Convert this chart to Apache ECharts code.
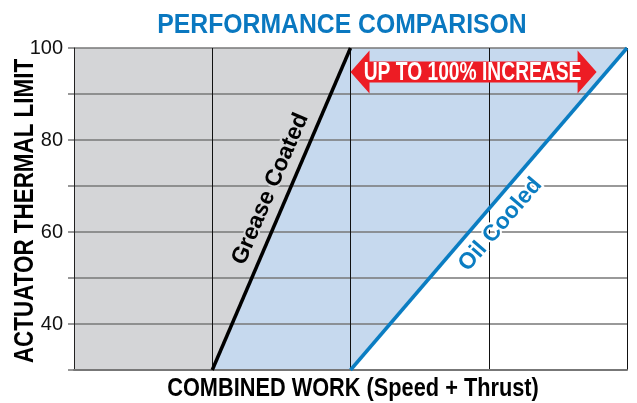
<!DOCTYPE html>
<html><head><meta charset="utf-8">
<script src="https://cdn.jsdelivr.net/npm/echarts@6/dist/echarts.min.js"></script>
<style>html,body{margin:0;padding:0;background:#fff}#c{width:637px;height:403px}</style>
</head><body><div id="c"></div>
<script>
// ---- data ----
const titleText = 'PERFORMANCE COMPARISON';
const xTitle = 'COMBINED WORK (Speed + Thrust)';
const yTitle = 'ACTUATOR THERMAL LIMIT';
const xRange = [0, 4];
const yRange = [30, 100];
const yTickLabels = [40, 60, 80, 100];
const greaseLine = [[1, 30], [2, 100]];
const oilLine = [[2, 30], [4, 100]];
const greaseLabel = 'Grease Coated';
const oilLabel = 'Oil Cooled';
const increaseLabel = 'UP TO 100% INCREASE';
const increaseSpan = [[2, 94.8], [3.78, 94.8]];

// ---- derived regions ----
const regions = [
  { pts: [[xRange[0], yRange[0]], greaseLine[0], greaseLine[1], [xRange[0], yRange[1]]], color: '#d4d5d7' },
  { pts: [greaseLine[0], oilLine[0], oilLine[1], greaseLine[1]], color: '#c6d9ee' }
];

const FONT = 'Liberation Sans';
const NARROW = "'Liberation Sans Narrow','Liberation Sans'";
const chart = echarts.init(document.getElementById('c'), null, { renderer: 'canvas' });

chart.setOption({
  animation: false,
  backgroundColor: '#ffffff',
  grid: { left: 74, right: 10, top: 48, bottom: 33 },
  xAxis: {
    type: 'value', min: xRange[0], max: xRange[1], interval: 1,
    axisLine: { show: true, lineStyle: { color: '#777', width: 2 } },
    axisTick: { show: false }, axisLabel: { show: false },
    splitLine: { show: true, lineStyle: { color: '#111', width: 1 } }
  },
  yAxis: {
    type: 'value', min: yRange[0], max: yRange[1], interval: 10,
    axisLine: { show: true, lineStyle: { color: '#222', width: 1 } },
    axisTick: { show: true, length: 6, lineStyle: { color: '#777', width: 1.5 } },
    axisLabel: {
      margin: 11, color: '#111', fontSize: 20,
      fontFamily: NARROW,
      formatter: v => yTickLabels.includes(v) ? String(v) : ''
    },
    splitLine: { show: true, lineStyle: { color: '#777', width: 1.6 } }
  },
  series: [
    {
      type: 'custom', z: -1, silent: true,
      data: regions.map(r => r.pts[0]),
      renderItem: (params, api) => {
        const r = regions[params.dataIndex];
        return { type: 'polygon', shape: { points: r.pts.map(p => api.coord(p)) }, style: { fill: r.color } };
      }
    },
    { type: 'line', z: 3, data: greaseLine, symbol: 'none', lineStyle: { color: '#000', width: 3.5 } },
    { type: 'line', z: 3, data: oilLine, symbol: 'none', lineStyle: { color: '#0b7dc2', width: 3.5 } }
  ]
});

function px(p) { return chart.convertToPixel({ gridIndex: 0 }, p); }

function lineLabel(line, text, t, offset, color, halo, fontSize, weight) {
  const a = px(line[0]), b = px(line[1]);
  const dx = b[0] - a[0], dy = b[1] - a[1];
  const len = Math.hypot(dx, dy);
  const nx = dy / len, ny = -dx / len; // up-left normal
  const cx = a[0] + dx * t + nx * offset, cy = a[1] + dy * t + ny * offset;
  return {
    type: 'text', x: cx, y: cy, rotation: Math.atan2(-dy, dx), z: 10,
    style: { text, fontFamily: NARROW, fontWeight: weight, fontSize, fill: color,
      align: 'center', verticalAlign: 'middle', stroke: halo, lineWidth: 4 }
  };
}

const L = px(increaseSpan[0]), R = px(increaseSpan[1]);
const ay = L[1], h = 19, hh = 21.5, bh = 10.5;
const arrowPts = [
  [L[0], ay], [L[0] + h, ay - hh], [L[0] + h, ay - bh], [R[0] - h, ay - bh], [R[0] - h, ay - hh],
  [R[0], ay], [R[0] - h, ay + hh], [R[0] - h, ay + bh], [L[0] + h, ay + bh], [L[0] + h, ay + hh]
];

chart.setOption({
  graphic: [
    { type: 'text', x: 342, y: 25, scaleX: 0.9, z: 10,
      style: { text: titleText, fontFamily: FONT, fontWeight: 'bold', fontSize: 27.5, fill: '#0a78c0', align: 'center', verticalAlign: 'middle' } },
    { type: 'text', x: 353, y: 389, scaleX: 0.87, z: 10,
      style: { text: xTitle, fontFamily: FONT, fontWeight: 'bold', fontSize: 25, fill: '#000', align: 'center', verticalAlign: 'middle' } },
    { type: 'text', x: 26, y: 211, rotation: Math.PI / 2, scaleX: 0.83, z: 10,
      style: { text: yTitle, fontFamily: FONT, fontWeight: 'bold', fontSize: 27, fill: '#000', align: 'center', verticalAlign: 'middle' } },
    { type: 'polygon', z: 9, shape: { points: arrowPts }, style: { fill: '#ed1c24' } },
    { type: 'text', x: (L[0] + R[0]) / 2 - 1, y: ay + 1, scaleX: 0.74, z: 10,
      style: { text: increaseLabel, fontFamily: FONT, fontWeight: 'bold', fontSize: 26, fill: '#fff', align: 'center', verticalAlign: 'middle' } },
    lineLabel(greaseLine, greaseLabel, 0.54, 18, '#000', '#d4d5d7', 23, 'bold'),
    lineLabel(oilLine, oilLabel, 0.49, -19, '#0b7dc2', '#ffffff', 23, 'bold')
  ]
});
</script>
</body></html>
